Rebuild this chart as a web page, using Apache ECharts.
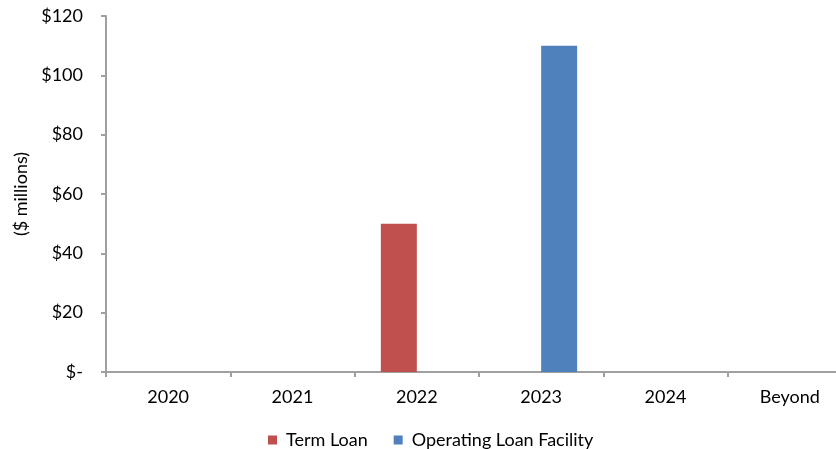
<!DOCTYPE html>
<html>
<head>
<meta charset="utf-8">
<script src="https://cdn.jsdelivr.net/npm/echarts@6/dist/echarts.min.js"></script>
<style>
  html, body { margin: 0; padding: 0; background: #ffffff; }
  #chart { width: 836px; height: 449px; }
</style>
</head>
<body>
<div id="chart"></div>
<script>
// Debt maturities by year, $ millions
const categories = ['2020', '2021', '2022', '2023', '2024', 'Beyond'];
const termLoan = [0, 0, 50, 0, 0, 0];
const operatingLoanFacility = [0, 0, 0, 110, 0, 0];
const yTickLabels = ['$-', '$20', '$40', '$60', '$80', '$100', '$120'];
const yStep = 20;

const FONT = 'Lato';
const FONT_SIZE = 18;
const AXIS_GREY = '#a0a0a0';

const chart = echarts.init(document.getElementById('chart'), null, { renderer: 'canvas' });

chart.setOption({
  animation: false,
  backgroundColor: '#ffffff',
  textStyle: { fontFamily: FONT, color: '#000000' },
  // plot area runs past the right edge of the canvas
  grid: {
    left: 106, width: 746, top: 16, height: 356,
    containLabel: false,
    outerBoundsMode: 'none'
  },
  legend: {
    left: 268,
    top: 431,
    itemWidth: 9,
    itemHeight: 9,
    itemGap: 26,
    icon: 'rect',
    padding: 0,
    textStyle: { fontFamily: FONT, fontSize: FONT_SIZE, color: '#000000', padding: [0, 0, 0, 4] },
    data: ['Term Loan', 'Operating Loan Facility']
  },
  xAxis: {
    type: 'category',
    data: categories,
    axisLine: { show: true, lineStyle: { color: AXIS_GREY, width: 2 } },
    axisTick: { show: true, alignWithLabel: false, length: 5, lineStyle: { color: AXIS_GREY, width: 2 } },
    axisLabel: { margin: 16, fontFamily: FONT, fontSize: FONT_SIZE, color: '#000000' },
    splitLine: { show: false }
  },
  yAxis: {
    type: 'value',
    min: 0,
    max: 120,
    interval: yStep,
    name: '($ millions)',
    nameLocation: 'middle',
    nameGap: 70,
    nameRotate: 90,
    nameTextStyle: { fontFamily: FONT, fontSize: FONT_SIZE, color: '#000000' },
    axisLine: { show: true, lineStyle: { color: AXIS_GREY, width: 2 } },
    axisTick: { show: true, length: 5, lineStyle: { color: AXIS_GREY, width: 2 } },
    axisLabel: {
      margin: 23,
      fontFamily: FONT,
      fontSize: FONT_SIZE,
      color: '#000000',
      formatter: function (v) { return yTickLabels[Math.round(v / yStep)]; }
    },
    splitLine: { show: false }
  },
  series: [
    {
      name: 'Term Loan',
      type: 'bar',
      data: termLoan,
      barWidth: 36,
      barGap: '0%',
      itemStyle: { color: '#c0504d' }
    },
    {
      name: 'Operating Loan Facility',
      type: 'bar',
      data: operatingLoanFacility,
      barWidth: 36,
      barGap: '0%',
      itemStyle: { color: '#4f81bd' }
    }
  ]
});
</script>
</body>
</html>
